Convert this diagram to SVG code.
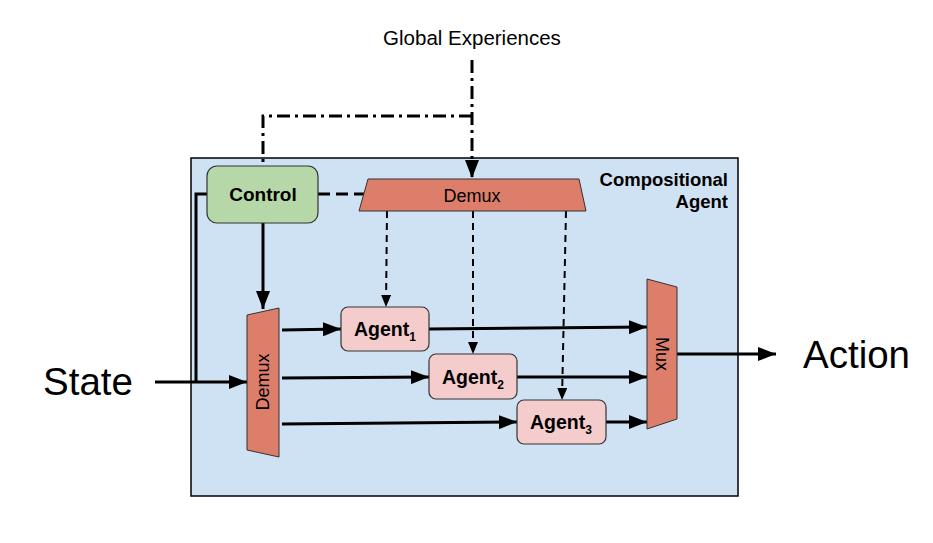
<svg xmlns="http://www.w3.org/2000/svg" width="933" height="543" viewBox="0 0 933 543">
  <style>
    text { font-family: "Liberation Sans", Arial, sans-serif; fill: #000; }
    .bold { font-weight: bold; }
    .frame { fill: #cfe2f3; stroke: #000; stroke-width: 1.5; }
    .ctrl { fill: #b6d7a8; stroke: #333; stroke-width: 1.2; }
    .mux { fill: #dd7e6b; stroke: #333; stroke-width: 1; }
    .agent { fill: #f4cccc; stroke: #333; stroke-width: 1.2; }
    .solid { fill: none; stroke: #000; stroke-width: 3; }
    .dash { fill: none; stroke: #000; stroke-width: 2; stroke-dasharray: 7 5; }
    .dashthick { fill: none; stroke: #000; stroke-width: 3; stroke-dasharray: 12 6; }
    .dashdot { fill: none; stroke: #000; stroke-width: 3; stroke-dasharray: 13 5 3 5; }
  </style>
  <defs>
    <marker id="arrow" markerUnits="userSpaceOnUse" markerWidth="18" markerHeight="14" refX="18" refY="7" orient="auto">
      <path d="M0,0 L18,7 L0,14 z" fill="#000"/>
    </marker>
    <marker id="arrowSmall" markerUnits="userSpaceOnUse" markerWidth="12" markerHeight="10" refX="12" refY="5" orient="auto">
      <path d="M0,0 L12,5 L0,10 z" fill="#000"/>
    </marker>
  </defs>

  <!-- outer compositional agent frame -->
  <g id="compositional-agent">
    <rect class="frame" x="191" y="158" width="547" height="338"/>
    <text class="bold" x="728" y="186" font-size="18.5" text-anchor="end">Compositional</text>
    <text class="bold" x="728" y="208" font-size="18.5" text-anchor="end">Agent</text>
  </g>

  <g id="global-experiences">
    <text x="472" y="45" font-size="20.5" text-anchor="middle">Global Experiences</text>
  </g>

  <!-- connectors -->
  <g id="connectors">
    <!-- global experiences feed (dash-dot) -->
    <path class="dashdot" d="M472,60 L472,178" marker-end="url(#arrow)"/>
    <path class="dashdot" d="M472,116 L263,116 L263,164"/>
    <!-- control to top demux select -->
    <path class="dashthick" d="M318,194 L364,194"/>
    <!-- control to left demux select -->
    <path class="solid" d="M263,223 L263,309" marker-end="url(#arrow)"/>
    <!-- state bypass from control -->
    <path class="solid" d="M207,194 L196,194 L196,382"/>
    <!-- state input -->
    <path class="solid" d="M155,382 L247,382" marker-end="url(#arrow)"/>
    <!-- demux to agents -->
    <path class="solid" d="M282,330 L341,329" marker-end="url(#arrow)"/>
    <path class="solid" d="M282,378 L429,377" marker-end="url(#arrow)"/>
    <path class="solid" d="M282,424 L517,422" marker-end="url(#arrow)"/>
    <!-- agents to mux -->
    <path class="solid" d="M429,329 L647,327" marker-end="url(#arrow)"/>
    <path class="solid" d="M517,377 L647,377" marker-end="url(#arrow)"/>
    <path class="solid" d="M606,422 L647,422" marker-end="url(#arrow)"/>
    <!-- mux to action -->
    <path class="solid" d="M677,354 L776,354" marker-end="url(#arrow)"/>
    <!-- experience routing from top demux -->
    <path class="dash" d="M387,211 L386,307" marker-end="url(#arrowSmall)"/>
    <path class="dash" d="M473,211 L473,354" marker-end="url(#arrowSmall)"/>
    <path class="dash" d="M566,211 L562,400" marker-end="url(#arrowSmall)"/>
  </g>

  <g id="control">
    <rect class="ctrl" x="207" y="166" width="111" height="57" rx="10"/>
    <text class="bold" x="263" y="201" font-size="19" text-anchor="middle">Control</text>
  </g>

  <g id="demux-top">
    <polygon class="mux" points="368,179 579,179 586,211 359,211"/>
    <text x="472" y="202" font-size="18" text-anchor="middle">Demux</text>
  </g>

  <g id="demux-left">
    <polygon class="mux" points="247,315 279,308 279,457 247,450"/>
    <text transform="translate(269,382) rotate(-90)" font-size="18" text-anchor="middle">Demux</text>
  </g>

  <g id="mux">
    <polygon class="mux" points="647,279 677,287 677,419 647,429"/>
    <text transform="translate(656,354) rotate(90)" font-size="18" text-anchor="middle">Mux</text>
  </g>

  <g id="agent1">
    <rect class="agent" x="341" y="307" width="88" height="44" rx="7"/>
    <text class="bold" x="385" y="336" font-size="19.5" text-anchor="middle">Agent<tspan font-size="12" dy="5">1</tspan></text>
  </g>
  <g id="agent2">
    <rect class="agent" x="429" y="354" width="88" height="45" rx="7"/>
    <text class="bold" x="473" y="384" font-size="19.5" text-anchor="middle">Agent<tspan font-size="12" dy="5">2</tspan></text>
  </g>
  <g id="agent3">
    <rect class="agent" x="517" y="400" width="89" height="44" rx="7"/>
    <text class="bold" x="561" y="429" font-size="19.5" text-anchor="middle">Agent<tspan font-size="12" dy="5">3</tspan></text>
  </g>

  <g id="state">
    <text x="43" y="395" font-size="38.5">State</text>
  </g>
  <g id="action">
    <text x="803" y="368" font-size="38.5">Action</text>
  </g>
</svg>
